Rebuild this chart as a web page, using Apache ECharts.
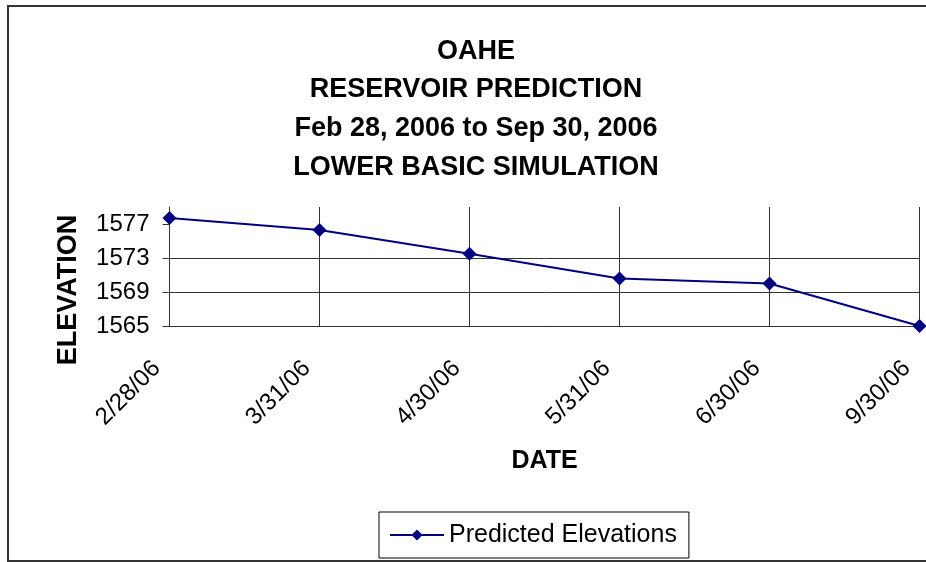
<!DOCTYPE html>
<html>
<head>
<meta charset="utf-8">
<title>OAHE Reservoir Prediction</title>
<script src="https://cdn.jsdelivr.net/npm/echarts@6/dist/echarts.min.js"></script>
<style>
    html, body { margin: 0; padding: 0; background: #fff; }
    #chart1 { width: 926px; height: 562px; }
</style>
</head>
<body>
<div id="chart1"></div>
<script>
// 数据
var dates = ['2/28/06', '3/31/06', '4/30/06', '5/31/06', '6/30/06', '9/30/06'];
var elevations = [1577.7, 1576.3, 1573.5, 1570.6, 1570.0, 1565.0];
var yTicks = [1565, 1569, 1573, 1577];
var titleLines = ['OAHE', 'RESERVOIR PREDICTION', 'Feb 28, 2006 to Sep 30, 2006', 'LOWER BASIC SIMULATION'];
var seriesName = 'Predicted Elevations';

var chart1 = echarts.init(document.getElementById('chart1'));
var font = 'Liberation Sans, Arial, sans-serif';
var gridColor = '#333';
var lineColor = '#000080';

var option1 = {
    animation: false,
    backgroundColor: '#fff',
    textStyle: {
        fontFamily: font
    },
    title: {
        text: titleLines.join('\n'),
        left: 471,
        top: 27,
        textAlign: 'center',
        textStyle: {
            fontFamily: font,
            fontWeight: 'bold',
            fontSize: 27,
            lineHeight: 38.6,
            color: '#000'
        }
    },
    graphic: [{
        // 外框
        type: 'rect',
        shape: { x: 8, y: 6, width: 1000, height: 555 },
        style: { fill: 'none', stroke: gridColor, lineWidth: 2 },
        silent: true
    }, {
        type: 'text',
        x: 69,
        y: 290,
        rotation: Math.PI / 2,
        style: {
            text: 'ELEVATION',
            font: 'bold 27px ' + font,
            fill: '#000',
            align: 'center',
            verticalAlign: 'middle'
        }
    }],
    legend: {
        data: [seriesName],
        left: 379,
        top: 512,
        padding: [10, 12, 10, 10],
        borderColor: '#000',
        borderWidth: 1,
        itemWidth: 54,
        itemHeight: 14,
        itemGap: 0,
        textStyle: {
            fontFamily: font,
            fontSize: 25,
            lineHeight: 26,
            color: '#000'
        }
    },
    grid: {
        left: 169.5,
        right: 6.5,
        top: 207,
        bottom: 236,
        containLabel: false
    },
    xAxis: {
        type: 'category',
        data: dates,
        boundaryGap: false,
        name: 'DATE',
        nameLocation: 'middle',
        nameGap: 123,
        nameTextStyle: {
            fontFamily: font,
            fontWeight: 'bold',
            fontSize: 25,
            color: '#000'
        },
        axisLine: {
            lineStyle: { color: gridColor, width: 1 }
        },
        axisTick: {
            show: false
        },
        splitLine: {
            show: true,
            lineStyle: { color: gridColor, width: 1 }
        },
        axisLabel: {
            rotate: 45,
            margin: 26,
            padding: [0, 18, 0, 0],
            fontFamily: font,
            fontSize: 24,
            color: '#000'
        }
    },
    yAxis: {
        type: 'value',
        min: 1565,
        max: 1579,
        interval: 4,
        axisLine: {
            show: true,
            lineStyle: { color: gridColor, width: 1 }
        },
        axisTick: {
            show: true,
            length: 7,
            customValues: yTicks,
            lineStyle: { color: gridColor }
        },
        axisLabel: {
            margin: 20,
            customValues: yTicks,
            formatter: function (v) {
                return String(v);
            },
            fontFamily: font,
            fontSize: 24,
            color: '#000'
        },
        splitLine: {
            show: true,
            showMaxLine: false,
            lineStyle: { color: gridColor, width: 1 }
        }
    },
    series: [{
        name: seriesName,
        type: 'line',
        data: elevations,
        symbol: 'diamond',
        symbolSize: 14,
        showAllSymbol: true,
        clip: false,
        itemStyle: {
            color: lineColor
        },
        lineStyle: {
            color: lineColor,
            width: 2
        }
    }]
};
chart1.setOption(option1);
</script>
</body>
</html>
